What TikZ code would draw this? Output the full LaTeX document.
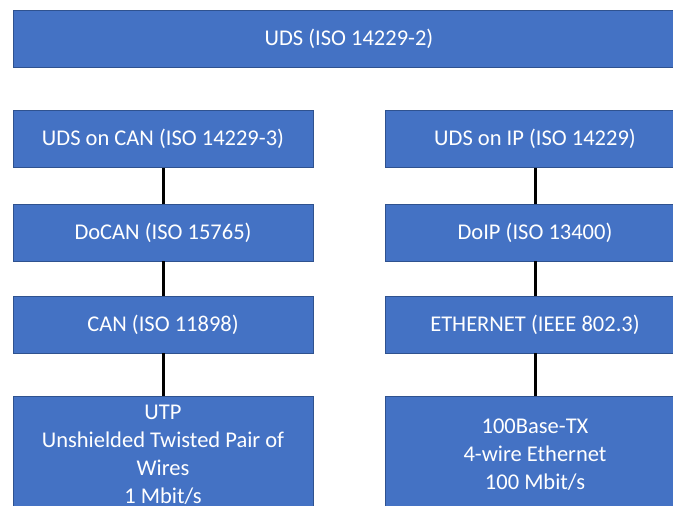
\documentclass[tikz,border=0pt]{standalone}
\usepackage{fontspec}
\setmainfont{Carlito}
\definecolor{boxfill}{HTML}{4472C4}
\definecolor{boxline}{HTML}{2F528F}
\begin{document}
\begin{tikzpicture}[x=1pt,y=-1pt,
  blk/.style={draw=boxline,line width=0.8pt,fill=boxfill,text=white,
    font=\fontsize{22.5}{28}\selectfont,align=center,inner sep=0pt,
    minimum width=300pt,minimum height=57pt},
  link/.style={draw=black,line width=3pt}]
\useasboundingbox (0,0) rectangle (673,506);
\clip (0,0) rectangle (673,506);
\node[blk,minimum width=672pt] (uds) at (349,38.5) {UDS (ISO 14229-2)};
\node[blk] (udscan) at (163,139) {UDS on CAN (ISO 14229-3)};
\node[blk] (docan) at (163,232.5) {DoCAN (ISO 15765)};
\node[blk] (can) at (163,324.5) {CAN (ISO 11898)};
\node[blk,minimum height=118pt] (utp) at (163,455) {UTP\\Unshielded Twisted Pair of\\Wires\\1 Mbit/s};
\node[blk] (udsip) at (535,139) {UDS on IP (ISO 14229)};
\node[blk] (doip) at (535,232.5) {DoIP (ISO 13400)};
\node[blk] (eth) at (535,324.5) {ETHERNET (IEEE 802.3)};
\node[blk,minimum height=118pt] (tx) at (535,455) {100Base-TX\\4-wire Ethernet\\100 Mbit/s};
\draw[link] (udscan.south) -- (docan.north);
\draw[link] (docan.south) -- (can.north);
\draw[link] (can.south) -- (utp.north);
\draw[link] (udsip.south) -- (doip.north);
\draw[link] (doip.south) -- (eth.north);
\draw[link] (eth.south) -- (tx.north);
\end{tikzpicture}
\end{document}
